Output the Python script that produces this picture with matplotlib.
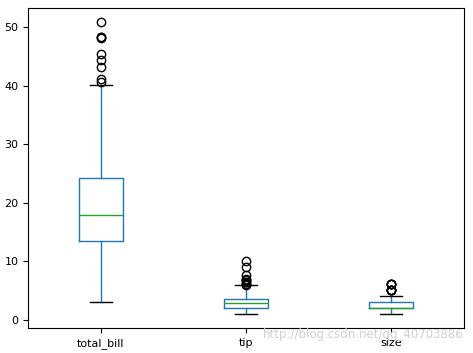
import matplotlib
matplotlib.use("Agg")
import matplotlib.pyplot as plt

# tips dataset summary
labels = ["total_bill", "tip", "size"]
medians = [17.795, 2.9, 2.0]
q1 = [13.3475, 2.0, 2.0]
q3 = [24.1275, 3.5625, 3.0]
whis_lo = [3.07, 1.0, 1.0]
whis_hi = [40.17, 5.85, 4.0]
fliers = [
    [40.55, 41.19, 43.11, 44.30, 45.35, 48.17, 48.27, 48.33, 50.81],
    [5.92, 6.0, 6.0, 6.5, 6.7, 6.73, 7.0, 7.58, 9.0, 10.0],
    [5, 5, 5, 5, 5, 6, 6, 6, 6],
]

stats = []
for i, lab in enumerate(labels):
    stats.append({"label": lab, "med": medians[i], "q1": q1[i], "q3": q3[i],
                  "whislo": whis_lo[i], "whishi": whis_hi[i], "fliers": fliers[i]})

fig, ax = plt.subplots(figsize=(4.73, 3.53), dpi=100)
ax.bxp(stats,
       boxprops=dict(color="#1f77b4"),
       whiskerprops=dict(color="#1f77b4"),
       medianprops=dict(color="#2ca02c"),
       capprops=dict(color="k"),
       flierprops=dict(marker="o", markerfacecolor="none", markeredgecolor="k"))
ax.tick_params(labelsize=8)

# faint blog watermark in the lower right corner
fig.text(0.98, 0.035, "http://blog.csdn.net/qq_40703886", ha="right", va="bottom",
         fontsize=8.5, color="#d0d0d0")

fig.subplots_adjust(left=0.06, right=0.98, top=0.978, bottom=0.07)
fig.savefig("out.png", dpi=100)
